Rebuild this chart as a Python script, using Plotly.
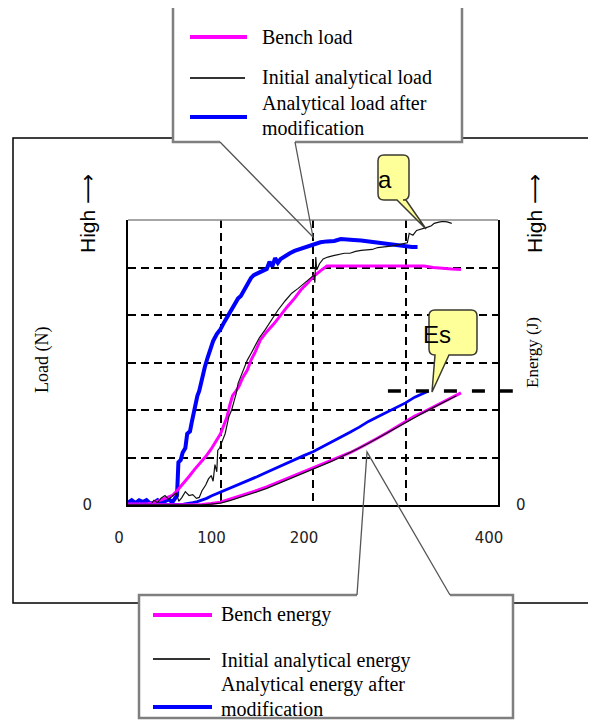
import plotly.graph_objects as go

# ---------------- data ----------------
X_TICKS = [0, 100, 200, 300, 400]
X_TICK_TEXT = ["0", "100", "200", "", "400"]
Y_TICKS = [0, 1, 2, 3, 4, 5]
Y_TICK_TEXT = ["0", "", "", "", "", ""]

BENCH_LOAD = [(0, 0.02), (20, 0.02), (28, 0.05), (35, 0.1), (42, 0.15), (48, 0.2), (53, 0.3),
              (60, 0.45), (66, 0.6), (72, 0.75), (78, 0.88), (84, 1.02), (90, 1.18), (96, 1.37),
              (100, 1.5), (104, 1.7), (107, 1.85), (110, 2.1), (113, 2.3), (116, 2.38), (120, 2.5),
              (124, 2.68), (129, 2.84), (133, 3.05), (137, 3.2), (143, 3.47), (150, 3.65), (158, 3.82),
              (165, 4.0), (172, 4.17), (180, 4.35), (187, 4.53), (194, 4.67), (201, 4.82), (208, 4.93),
              (215, 5.03), (240, 5.03), (270, 5.03), (300, 5.03), (320, 5.03), (330, 5.0), (340, 4.98),
              (350, 4.97), (360, 4.96)]

INITIAL_LOAD = [(0, 0.0), (25, 0.02), (28, 0.1), (32, 0.05), (36, 0.15), (40, 0.2), (44, 0.12),
                (48, 0.18), (52, 0.25), (55, 0.08), (58, 0.15), (62, 0.28), (66, 0.2), (70, 0.22),
                (74, 0.14), (77, 0.16), (80, 0.3), (84, 0.42), (87, 0.55), (90, 0.62), (92, 0.5),
                (94, 0.85), (96, 0.7), (97, 1.15), (99, 1.2), (102, 1.35), (105, 1.5), (109, 1.86),
                (112, 2.0), (114, 2.14), (117, 2.35), (119, 2.56), (122, 2.7), (126, 2.91), (129, 3.05),
                (133, 3.19), (137, 3.35), (142, 3.52), (148, 3.68), (155, 3.9), (162, 4.1), (170, 4.3),
                (177, 4.46), (184, 4.56), (191, 4.67), (197, 4.76), (201, 4.84), (202, 4.68), (203, 5.22),
                (204, 4.95), (207, 5.08), (211, 5.18), (216, 5.22), (222, 5.25), (228, 5.27), (234, 5.3),
                (240, 5.3), (246, 5.34), (252, 5.36), (258, 5.37), (264, 5.38), (270, 5.42), (277, 5.43),
                (284, 5.45), (290, 5.47), (296, 5.5), (302, 5.52), (304, 5.72), (308, 5.68), (312, 5.78),
                (316, 5.8), (320, 5.82), (324, 5.85), (328, 5.88), (331, 5.93), (335, 5.95), (340, 5.97),
                (345, 5.96), (350, 5.93)]

MODIFIED_LOAD = [(0, 0.05), (4, 0.1), (8, 0.04), (12, 0.1), (16, 0.06), (20, 0.1), (24, 0.03),
                 (28, 0.05), (32, 0.1), (36, 0.04), (40, 0.08), (44, 0.12), (48, 0.06), (51, 0.15),
                 (53, 0.2), (54.5, 0.9), (57, 0.95), (59, 1.1), (62, 1.2), (64, 1.5), (67, 1.55),
                 (69, 1.75), (71, 1.95), (73, 2.1), (75, 2.3), (77, 2.4), (79, 2.6), (81, 2.75),
                 (83, 2.9), (86, 3.1), (89, 3.3), (92, 3.45), (96, 3.6), (100, 3.7), (104, 3.85),
                 (107, 3.95), (111, 4.1), (115, 4.25), (119, 4.35), (122, 4.4), (126, 4.55), (130, 4.7),
                 (133, 4.78), (136, 4.84), (140, 4.88), (144, 4.92), (147, 4.95), (150, 4.97), (153, 5.12),
                 (156, 5.02), (159, 5.2), (162, 5.1), (165, 5.18), (170, 5.25), (175, 5.3), (180, 5.35),
                 (187, 5.4), (194, 5.45), (201, 5.5), (208, 5.53), (215, 5.55), (223, 5.56), (230, 5.6),
                 (237, 5.58), (244, 5.58), (252, 5.57), (260, 5.55), (268, 5.53), (276, 5.5), (284, 5.47),
                 (292, 5.45), (300, 5.44), (307, 5.43), (313, 5.43)]

BENCH_ENERGY = [(0, 0.0), (70, 0.0), (80, 0.01), (90, 0.03), (100, 0.06), (110, 0.12), (120, 0.18),
                (130, 0.24), (140, 0.31), (150, 0.38), (160, 0.46), (170, 0.53), (180, 0.61), (190, 0.69),
                (200, 0.77), (210, 0.85), (220, 0.93), (230, 1.02), (240, 1.1), (250, 1.2), (260, 1.3),
                (270, 1.41), (280, 1.52), (290, 1.64), (300, 1.75), (310, 1.87), (320, 1.96), (330, 2.06),
                (340, 2.16), (350, 2.26), (360, 2.36)]

INITIAL_ENERGY = [(0, 0.0), (80, 0.0), (90, 0.02), (100, 0.04), (110, 0.09), (120, 0.15), (130, 0.21),
                  (140, 0.28), (150, 0.35), (160, 0.43), (170, 0.51), (180, 0.59), (190, 0.67), (200, 0.75),
                  (210, 0.84), (220, 0.92), (230, 1.01), (240, 1.1), (250, 1.2), (260, 1.3), (270, 1.41),
                  (280, 1.52), (290, 1.63), (300, 1.74), (310, 1.85), (320, 1.95), (330, 2.05), (340, 2.15),
                  (350, 2.25), (355, 2.3)]

MODIFIED_ENERGY = [(0, 0.0), (50, 0.0), (55, 0.01), (60, 0.02), (65, 0.03), (70, 0.05), (75, 0.07),
                   (80, 0.1), (85, 0.14), (90, 0.19), (95, 0.23), (100, 0.27), (110, 0.35), (120, 0.44),
                   (130, 0.52), (140, 0.6), (150, 0.69), (160, 0.78), (170, 0.87), (180, 0.96), (190, 1.04),
                   (200, 1.12), (210, 1.22), (220, 1.32), (230, 1.42), (240, 1.53), (250, 1.64), (260, 1.76),
                   (270, 1.86), (280, 1.96), (290, 2.05), (300, 2.15), (310, 2.27), (320, 2.36), (325, 2.4)]

ES_LEVEL = 2.4
ES_LINE_X = [281, 408]

LOAD_LEGEND = ["Bench load", "Initial analytical load", "Analytical load after", "modification"]
ENERGY_LEGEND = ["Bench energy", "Initial analytical energy", "Analytical energy after", "modification"]

MAGENTA = "#FF00FF"
BLUE = "#0000FF"
BLACK = "#111111"

# ---------------- layout geometry (page pixels) ----------------
W, H = 596, 720
OFF = 8  # default body margin of the html page
L, R, T, B = 128, 498, 220, 505
X_RANGE = [0, 400]
Y_RANGE = [0, 6]


def px(x):
    return (x - L) / (R - L)


def py(y):
    return (B - y) / (B - T)


def split(pairs):
    return [p[0] for p in pairs], [p[1] for p in pairs]


fig = go.Figure()

for pairs, color, width in [(MODIFIED_LOAD, BLUE, 4), (BENCH_LOAD, MAGENTA, 3), (INITIAL_LOAD, BLACK, 1.2)]:
    xs, ys = split(pairs)
    fig.add_trace(go.Scatter(x=xs, y=ys, mode="lines", line=dict(color=color, width=width),
                             showlegend=False, hoverinfo="skip"))

for pairs, color, width in [(MODIFIED_ENERGY, BLUE, 2.8), (BENCH_ENERGY, MAGENTA, 3), (INITIAL_ENERGY, BLACK, 1.3)]:
    xs, ys = split(pairs)
    fig.add_trace(go.Scatter(x=xs, y=ys, mode="lines", line=dict(color=color, width=width),
                             yaxis="y2", showlegend=False, hoverinfo="skip"))

tick_font = dict(family="DejaVu Sans, Arial, sans-serif", size=15, color="#222")

fig.update_layout(
    width=W, height=H, autosize=False,
    margin=dict(l=L - OFF, r=W - (R - OFF), t=T - OFF, b=H - (B - OFF), pad=0),
    paper_bgcolor="white", plot_bgcolor="white",
    showlegend=False,
    xaxis=dict(range=X_RANGE, tickvals=X_TICKS, ticktext=X_TICK_TEXT, showgrid=True,
               gridcolor="black", gridwidth=1.5, griddash="8px,5px", zeroline=False,
               showline=True, linecolor="black", linewidth=2, ticks="", tickfont=tick_font,
               ticklabelstandoff=18, ticklabelshift=-9, fixedrange=True),
    yaxis=dict(range=Y_RANGE, tickvals=Y_TICKS, ticktext=Y_TICK_TEXT, showgrid=True,
               gridcolor="black", gridwidth=1.5, griddash="8px,5px", zeroline=False,
               showline=True, linecolor="black", linewidth=2, ticks="", tickfont=tick_font,
               ticklabelstandoff=31, fixedrange=True),
    yaxis2=dict(range=Y_RANGE, overlaying="y", side="right", tickvals=[0], ticktext=["0"],
                showgrid=False, zeroline=False, showline=True, linecolor="black", linewidth=2,
                ticks="", tickfont=tick_font, ticklabelstandoff=13, fixedrange=True),
)

shapes = []
annotations = []

# outer frame
shapes.append(dict(type="rect", xref="paper", yref="paper", x0=px(13), x1=px(592), y0=py(603), y1=py(138),
                   line=dict(color="black", width=1.5), fillcolor="rgba(0,0,0,0)"))
# top border of plot area (grey)
shapes.append(dict(type="line", xref="paper", yref="paper", x0=0, x1=1, y0=1, y1=1,
                   line=dict(color="#888888", width=1.5)))

# Es dashed level line (energy axis value -> paper)
shapes.append(dict(type="line", xref="paper", yref="paper",
                   x0=ES_LINE_X[0] / X_RANGE[1], x1=ES_LINE_X[1] / X_RANGE[1] + 0.02,
                   y0=ES_LEVEL / Y_RANGE[1], y1=ES_LEVEL / Y_RANGE[1],
                   line=dict(color="black", width=3.5, dash="13px,15px")))


def path(points, close=True):
    s = "M " + " L ".join(f"{px(x):.5f},{py(y):.5f}" for x, y in points)
    return s + (" Z" if close else "")


# legend boxes (white fill) + grey borders with callout pointers
GREY = "#7f7f7f"
shapes.append(dict(type="rect", xref="paper", yref="paper", x0=px(173), x1=px(462), y0=py(142), y1=py(5),
                   fillcolor="white", line=dict(width=0)))
shapes.append(dict(type="path", xref="paper", yref="paper",
                   path=path([(220, 142), (173, 142), (173, 5), (462, 5), (462, 142), (295, 142)], close=False),
                   line=dict(color=GREY, width=2.5)))
shapes.append(dict(type="path", xref="paper", yref="paper",
                   path=path([(220, 142), (313, 237), (295, 142)], close=False),
                   line=dict(color="#555555", width=1.3)))

shapes.append(dict(type="rect", xref="paper", yref="paper", x0=px(139), x1=px(513), y0=py(718), y1=py(595),
                   fillcolor="white", line=dict(width=0)))
shapes.append(dict(type="path", xref="paper", yref="paper",
                   path=path([(357, 595), (139, 595), (139, 718), (513, 718), (513, 595), (450, 595)], close=False),
                   line=dict(color=GREY, width=2.5)))
shapes.append(dict(type="path", xref="paper", yref="paper",
                   path=path([(357, 595), (367, 452), (450, 595)], close=False),
                   line=dict(color="#555555", width=1.3)))

# legend sample lines
for (x0, x1, y), color, width in [((190, 247, 37), MAGENTA, 4), ((190, 245, 78), "#333333", 2),
                                  ((190, 247, 117), BLUE, 4),
                                  ((153, 212, 615), MAGENTA, 4), ((153, 210, 659), "#333333", 2),
                                  ((153, 212, 707), BLUE, 4)]:
    shapes.append(dict(type="line", xref="paper", yref="paper", x0=px(x0), x1=px(x1), y0=py(y), y1=py(y),
                       line=dict(color=color, width=width)))

serif = "Liberation Serif, Times New Roman, serif"
for text, (x, y) in zip(LOAD_LEGEND, [(260, 37), (260, 77), (260, 103), (260, 128)]):
    annotations.append(dict(text=text, x=px(x), y=py(y), xref="paper", yref="paper", showarrow=False,
                            xanchor="left", yanchor="middle", font=dict(family=serif, size=20, color="black")))
for text, (x, y) in zip(ENERGY_LEGEND, [(219, 614), (219, 660), (219, 684), (219, 709)]):
    annotations.append(dict(text=text, x=px(x), y=py(y), xref="paper", yref="paper", showarrow=False,
                            xanchor="left", yanchor="middle", font=dict(family=serif, size=20, color="black")))


# yellow callouts
def callout(x0, x1, y0, y1, base0, base1, tip, r=6):
    pts = (f"M {px(x0 + r):.5f},{py(y0):.5f} L {px(x1 - r):.5f},{py(y0):.5f} "
           f"Q {px(x1):.5f},{py(y0):.5f} {px(x1):.5f},{py(y0 + r):.5f} "
           f"L {px(x1):.5f},{py(y1 - r):.5f} Q {px(x1):.5f},{py(y1):.5f} {px(x1 - r):.5f},{py(y1):.5f} "
           f"L {px(base1):.5f},{py(y1):.5f} L {px(tip[0]):.5f},{py(tip[1]):.5f} L {px(base0):.5f},{py(y1):.5f} "
           f"L {px(x0 + r):.5f},{py(y1):.5f} Q {px(x0):.5f},{py(y1):.5f} {px(x0):.5f},{py(y1 - r):.5f} "
           f"L {px(x0):.5f},{py(y0 + r):.5f} Q {px(x0):.5f},{py(y0):.5f} {px(x0 + r):.5f},{py(y0):.5f} Z")
    return dict(type="path", xref="paper", yref="paper", path=pts, fillcolor="#FFFF99",
                line=dict(color="#3a3a30", width=1.5))


shapes.append(callout(378, 409, 155, 200, 397, 406, (426, 229)))
shapes.append(callout(429, 477, 310, 355, 435, 449, (432, 392)))
sans = "Liberation Sans, Arial, sans-serif"
annotations.append(dict(text="a", x=px(393.5), y=py(179), xref="paper", yref="paper", showarrow=False,
                        yanchor="middle", font=dict(family=sans, size=24, color="black")))
annotations.append(dict(text="Es", x=px(453), y=py(334), xref="paper", yref="paper", showarrow=False,
                        yanchor="middle", font=dict(family=sans, size=24, color="black")))

# axis side titles
high = "High <span style='font-family:DejaVu Sans'>⟶</span>"
for text, x, y, fam, size in [(high, 88, 214, sans, 21), (high, 535, 214, sans, 21),
                              ("Load (N)", 42, 360, serif, 18), ("Energy (J)", 532, 353, serif, 17)]:
    annotations.append(dict(text=text, x=px(x), y=py(y), xref="paper", yref="paper", showarrow=False,
                            textangle=-90, xanchor="center", yanchor="middle",
                            font=dict(family=fam, size=size, color="black")))

fig.update_layout(shapes=shapes, annotations=annotations)
fig.write_html("out.html")
